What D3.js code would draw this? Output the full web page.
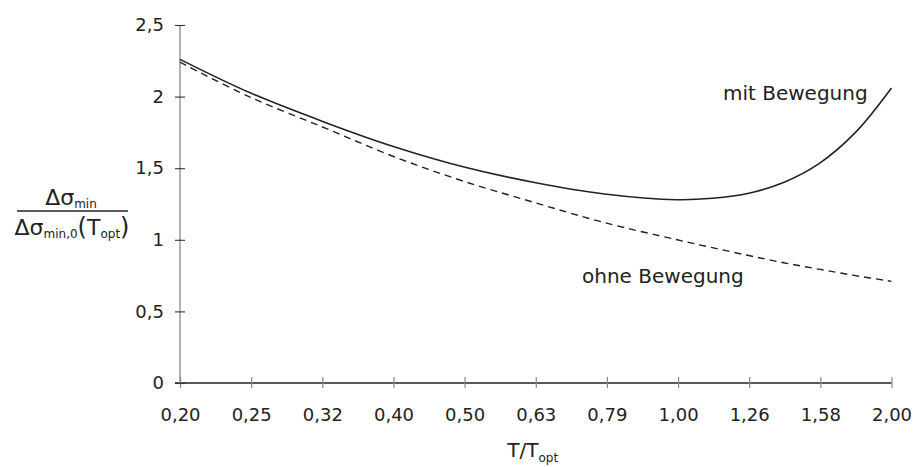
<!DOCTYPE html>
<html>
<head>
<meta charset="utf-8">
<script src="https://cdn.jsdelivr.net/npm/d3@7"></script>
<style>
  body { margin: 0; background: #fff; }
  svg { font-family: "DejaVu Sans", sans-serif; }
</style>
</head>
<body>
<script>
// Paramètres
const width = 915;
const height = 467;
const margin = { top: 25, right: 23.5, bottom: 84, left: 180 };

// Données (T/Topt, échelle log)
const xTicks = [0.2, 0.2518, 0.317, 0.3991, 0.5024, 0.6325, 0.7962, 1.0024, 1.2619, 1.5887, 2.0];
const xTickLabels = ["0,20", "0,25", "0,32", "0,40", "0,50", "0,63", "0,79", "1,00", "1,26", "1,58", "2,00"];
const yTicks = [0, 0.5, 1, 1.5, 2, 2.5];
const yTickLabels = ["0", "0,5", "1", "1,5", "2", "2,5"];

const tValues = [0.20, 0.25, 0.32, 0.40, 0.50, 0.63, 0.79, 1.00, 1.12, 1.26, 1.41, 1.58, 1.78, 2.00];
const mitBewegung = [2.26, 2.03, 1.82, 1.65, 1.51, 1.40, 1.32, 1.28, 1.29, 1.325, 1.40, 1.53, 1.75, 2.06];
const ohneBewegung = [2.24, 2.00, 1.78, 1.58, 1.41, 1.26, 1.12, 1.00, 0.945, 0.89, 0.84, 0.795, 0.75, 0.71];

const svg = d3.select('body')
  .append('svg')
  .attr('width', width)
  .attr('height', height);

const x = d3.scaleLog()
  .domain([0.2, 2])
  .range([margin.left, width - margin.right]);

const y = d3.scaleLinear()
  .domain([0, 2.5])
  .range([height - margin.bottom, margin.top]);

// Axe horizontal
svg.append('g')
  .attr('transform', `translate(0, ${y(0)})`)
  .call(d3.axisBottom(x).tickValues(xTicks).tickFormat((d, i) => xTickLabels[i]).tickSizeOuter(0))
  .call(g => g.select('.domain').attr('d', `M${margin.left - 5},0H${x(2)}`).attr('stroke', '#222').attr('stroke-width', 1.3))
  .call(g => g.selectAll('.tick line').attr('y1', -6).attr('y2', 5).attr('stroke', '#888').attr('stroke-width', 1.2))
  .call(g => g.selectAll('.tick text')
    .attr('y', 38).attr('dy', 0)
    .attr('font-size', 18).attr('font-family', '"DejaVu Sans", sans-serif').attr('fill', '#222'));

// Axe vertical
svg.append('g')
  .attr('transform', `translate(${margin.left}, 0)`)
  .call(d3.axisLeft(y).tickValues(yTicks).tickFormat((d, i) => yTickLabels[i]).tickSizeOuter(0))
  .call(g => g.select('.domain').attr('d', `M0,${y(2.5)}V${y(0)}`).attr('stroke', '#888').attr('stroke-width', 1.3))
  .call(g => g.selectAll('.tick line').attr('x1', -5).attr('x2', 5).attr('stroke', '#333').attr('stroke-width', 1.1))
  .call(g => g.selectAll('.tick text')
    .attr('x', -16)
    .attr('font-size', 18).attr('font-family', '"DejaVu Sans", sans-serif').attr('fill', '#222'));

// Courbes
const line = d3.line()
  .x((d, i) => x(tValues[i]))
  .y(d => y(d))
  .curve(d3.curveCatmullRom.alpha(0.5));

svg.append('path')
  .datum(ohneBewegung)
  .attr('d', line)
  .attr('fill', 'none')
  .attr('stroke', '#222')
  .attr('stroke-width', 1.4)
  .attr('stroke-dasharray', '7,5');

svg.append('path')
  .datum(mitBewegung)
  .attr('d', line)
  .attr('fill', 'none')
  .attr('stroke', '#222')
  .attr('stroke-width', 1.6);

// Étiquettes des courbes
svg.append('text')
  .attr('x', 723).attr('y', 100)
  .attr('font-size', 20).attr('fill', '#222')
  .text('mit Bewegung');

svg.append('text')
  .attr('x', 582).attr('y', 283)
  .attr('font-size', 20).attr('fill', '#222')
  .text('ohne Bewegung');

// Titre axe x
const xt = svg.append('text')
  .attr('x', (x(0.2) + x(2)) / 2 - 3).attr('y', 457)
  .attr('text-anchor', 'middle')
  .attr('font-size', 20).attr('fill', '#222');
xt.append('tspan').text('T/T');
xt.append('tspan').attr('font-size', 12).attr('dy', 5).text('opt');

// Titre axe y (fraction)
const yl = svg.append('g').attr('fill', '#222');
const num = yl.append('text')
  .attr('x', 71).attr('y', 205)
  .attr('text-anchor', 'middle')
  .attr('font-size', 22);
num.append('tspan').text('Δσ');
num.append('tspan').attr('font-size', 12).attr('dy', 3).text('min');

yl.append('line')
  .attr('x1', 17).attr('x2', 128)
  .attr('y1', 211).attr('y2', 211)
  .attr('stroke', '#222').attr('stroke-width', 1.3);

const den = yl.append('text')
  .attr('x', 72).attr('y', 235)
  .attr('text-anchor', 'middle')
  .attr('font-size', 22);
den.append('tspan').text('Δσ');
den.append('tspan').attr('font-size', 12).attr('dy', 3).text('min,0');
den.append('tspan').attr('dy', -3).attr('font-size', 24).text('(');
den.append('tspan').text('T');
den.append('tspan').attr('font-size', 12).attr('dy', 3).text('opt');
den.append('tspan').attr('dy', -3).attr('font-size', 24).text(')');
</script>
</body>
</html>
